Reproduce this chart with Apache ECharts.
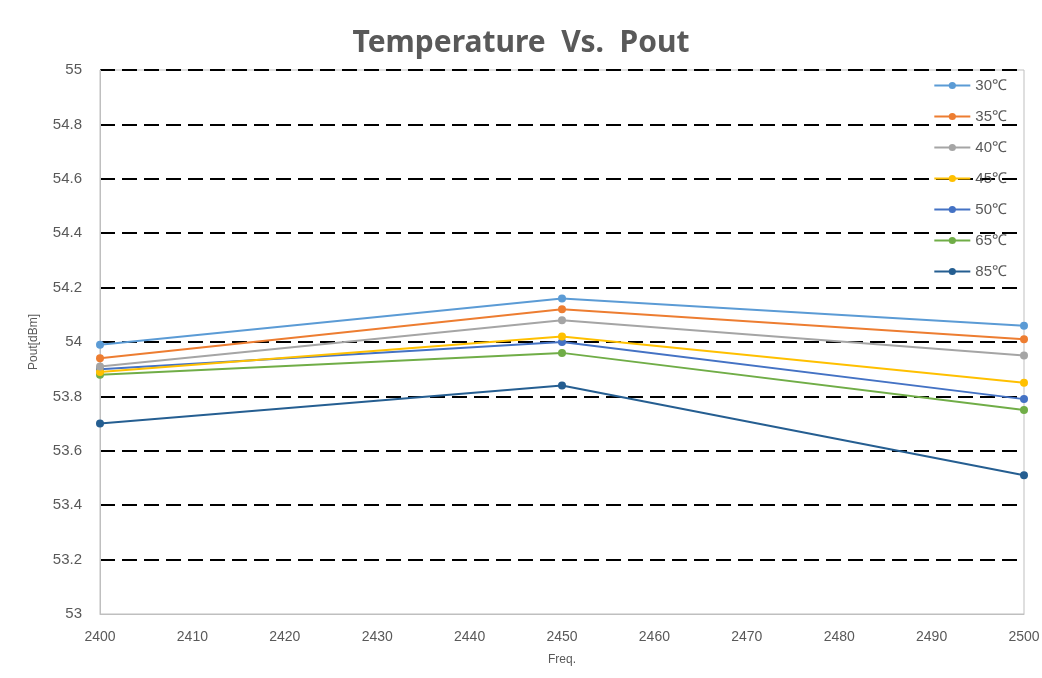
<!DOCTYPE html>
<html>
<head>
<meta charset="utf-8">
<script src="https://cdn.jsdelivr.net/npm/echarts@6/dist/echarts.min.js"></script>
<style>
  html, body { margin: 0; padding: 0; background: #fff; }
  #container { width: 1042px; height: 678px; }
</style>
</head>
<body>
<div id="container"></div>
<script>
var freq = [2400, 2450, 2500];
var names = ['30℃', '35℃', '40℃', '45℃', '50℃', '65℃', '85℃'];
var t30 = [53.99, 54.16, 54.06];
var t35 = [53.94, 54.12, 54.01];
var t40 = [53.91, 54.08, 53.95];
var t45 = [53.89, 54.02, 53.85];
var t50 = [53.90, 54.00, 53.79];
var t65 = [53.88, 53.96, 53.75];
var t85 = [53.70, 53.84, 53.51];
var colors = ['#5B9BD5', '#ED7D31', '#A5A5A5', '#FFC000', '#4472C4', '#70AD47', '#255E91'];

var dom = document.getElementById('container');
var myChart = echarts.init(dom);
var allData = [t30, t35, t40, t45, t50, t65, t85];

var series = [];
for (var i = 0; i < names.length; i++) {
    series.push({
        name: names[i],
        type: 'line',
        data: freq.map(function (f, j) { return [f, allData[i][j]]; }),
        symbol: 'circle',
        symbolSize: 8,
        lineStyle: {width: 2, color: colors[i]},
        itemStyle: {color: colors[i]},
        z: 10 - i
    });
}

var option = {
    animation: false,
    title: {
        text: 'Temperature  Vs.  Pout',
        left: 'center',
        top: 23,
        textStyle: {
            fontFamily: 'Noto Sans',
            fontSize: 30,
            fontWeight: 'bold',
            color: '#595959'
        }
    },
    legend: {
        orient: 'vertical',
        right: 30,
        top: 73,
        itemWidth: 36,
        itemHeight: 9,
        itemGap: 16,
        itemStyle: {borderWidth: 0},
        textStyle: {color: '#595959', fontSize: 15, padding: [10, 0, 0, 0]},
        data: names
    },
    grid: {
        left: 100,
        right: 18,
        top: 70,
        bottom: 64,
        outerBoundsMode: 'none',
        show: true,
        borderColor: '#BFBFBF',
        borderWidth: 1
    },
    xAxis: {
        type: 'value',
        min: 2400,
        max: 2500,
        interval: 10,
        name: 'Freq.',
        nameLocation: 'middle',
        nameGap: 40,
        nameTextStyle: {color: '#595959', fontSize: 12},
        axisLine: {lineStyle: {color: '#BFBFBF'}},
        axisTick: {show: false},
        axisLabel: {
            color: '#595959', fontSize: 14, margin: 16,
            formatter: function (v) { return String(v); }
        },
        splitLine: {show: false}
    },
    yAxis: {
        type: 'value',
        min: 53,
        max: 55,
        interval: 0.2,
        name: 'Pout[dBm]',
        nameLocation: 'middle',
        nameGap: 60,
        nameTextStyle: {color: '#595959', fontSize: 12},
        axisLine: {show: true, lineStyle: {color: '#BFBFBF'}},
        axisTick: {show: false},
        axisLabel: {color: '#595959', fontSize: 15, margin: 18},
        splitLine: {
            show: true,
            showMinLine: false,
            lineStyle: {color: '#000', width: 2, type: [15, 7]}
        }
    },
    series: series
};
myChart.setOption(option, true);
</script>
</body>
</html>
